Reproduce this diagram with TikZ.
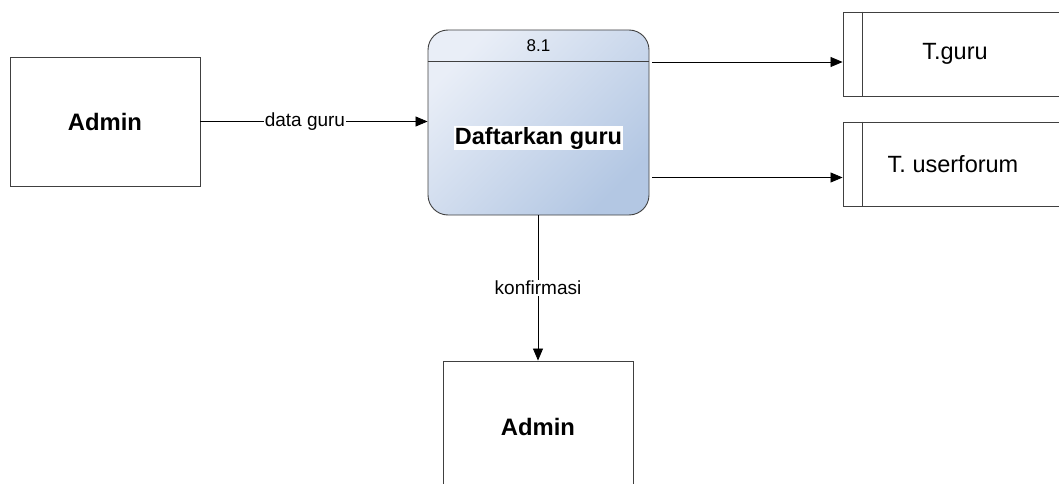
\documentclass[tikz,border=0pt]{standalone}
\usepackage{fontspec}
\setmainfont{Liberation Sans}
\usetikzlibrary{arrows.meta}
\definecolor{edgegray}{HTML}{404040}
\definecolor{procA}{HTML}{E9EEF7}
\definecolor{procB}{HTML}{B3C7E3}
\tikzset{
  entity/.style={draw=edgegray, line width=0.9pt, minimum width=190pt, font=\fontsize{23.8}{27}\selectfont\bfseries},
  store/.style={draw=edgegray, line width=0.9pt, minimum width=224pt, minimum height=84pt, font=\fontsize{23.5}{27}\selectfont},
  flow/.style={draw=black, line width=0.8pt, -{Triangle[length=12pt,width=10pt]}},
  flowlabel/.style={fill=white, inner sep=1pt, font=\fontsize{19}{22}\selectfont}
}
\begin{document}
\begin{tikzpicture}[x=1pt,y=-1pt]
\useasboundingbox (0,0) rectangle (1059,484);
\clip (0,0) rectangle (1059,484);
% entities
\node[entity, minimum height=129pt] (admin1) at (105,121.5) {Admin};
\node[entity, minimum height=132pt] (admin2) at (538,427) {Admin};
% process
\node[draw=edgegray, line width=0.9pt, rounded corners=20pt, minimum width=221pt, minimum height=185pt,
      top color=procA, bottom color=procB, shading angle=45] (proc) at (538.5,122.5) {};
\coordinate (hdr) at (0,61);
\draw[edgegray, line width=0.9pt] (proc.west |- hdr) -- (proc.east |- hdr);
\node[font=\fontsize{17}{20}\selectfont, inner sep=0pt] (pnum) at (538.5,45.5) {8.1};
\node[fill=white, inner sep=1pt, font=\fontsize{23.5}{27}\selectfont\bfseries] (pname) at (538.5,138) {Daftarkan guru};
% stores
\node[store] (tguru) at (955,54) {T.guru};
\draw[edgegray, line width=0.9pt] ([xshift=20pt]tguru.north west) -- ([xshift=20pt]tguru.south west);
\node[store] (tuser) at (955,164) {\hspace*{-4pt}T. userforum};
\draw[edgegray, line width=0.9pt] ([xshift=20pt]tuser.north west) -- ([xshift=20pt]tuser.south west);
% flows
\draw[flow] (admin1.east) -- node[flowlabel, pos=0.46] (l1) {data guru} (proc.west |- admin1.east);
\coordinate (ya) at (0,62);
\coordinate (yb) at (0,177.5);
\draw[flow] ([xshift=3pt]proc.east |- ya) -- (tguru.west |- ya);
\draw[flow] ([xshift=3pt]proc.east |- yb) -- (tuser.west |- yb);
\draw[flow] (proc.south -| admin2.north) -- node[flowlabel, pos=0.5] (l2) {konfirmasi} (admin2.north);
\end{tikzpicture}
\end{document}
